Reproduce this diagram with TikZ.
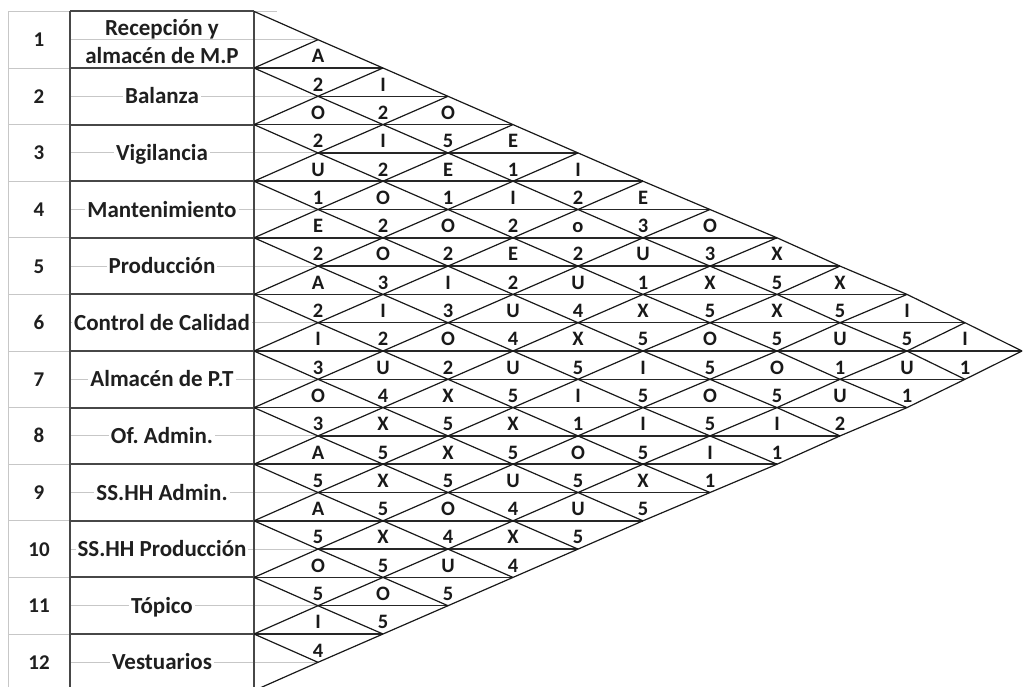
\documentclass[tikz,border=0pt]{standalone}
\usepackage{fontspec}
\setmainfont{Carlito}
\begin{document}
\begin{tikzpicture}[x=1pt,y=-1pt,
  grid/.style={draw=black!22, line width=1pt},
  frame/.style={draw=black!72, line width=1.9pt},
  diag/.style={draw=black!90, line width=1.2pt, line join=round},
  hline/.style={draw=black!85, line width=1.5pt},
  namelbl/.style={font=\fontsize{23}{24}\selectfont\bfseries, inner xsep=2pt, inner ysep=0pt, fill=white, anchor=base, text=black!88},
  numlbl/.style={font=\fontsize{21}{22}\selectfont\bfseries, inner sep=0pt, anchor=base, text=black!88},
  code/.style={font=\fontsize{20.5}{21}\selectfont\bfseries, inner sep=0pt, anchor=base, text=black!90}]
\useasboundingbox (0,0) rectangle (1024,686);

% lattice points of the relationship triangle: column u, half-row level v
\foreach \xx [count=\k from 0] in {254,318,383,448,513,578,643,710,777,840,907,965,1022} {
  \foreach \v in {0,...,24} {
    \coordinate (p\k-\v) at (\xx,{11.4+28.3*\v});
  }
}

% light cell gridlines
\foreach \v in {0,2,...,24} \draw[grid] (8,{11.4+28.3*\v}) -- (70,{11.4+28.3*\v});
\draw[grid] (8,11.4) -- (8,700);
\foreach \v in {1,3,...,23} \draw[grid] (70,{11.4+28.3*\v}) -- (p1-\v);
\draw[grid] (p0-0) -- (277,11.4);

% activity name column
\draw[frame] (70,11.4) -- (70,700);
\draw[frame] (254,11.4) -- (254,700);
\foreach \v in {0,2,...,22} \draw[frame] (70,{11.4+28.3*\v}) -- (p0-\v);

% horizontal diagonals of the diamonds
\foreach \v in {2,...,22} {
  \pgfmathtruncatemacro\ua{mod(\v,2)}
  \pgfmathtruncatemacro\ub{min(\v,24-\v)}
  \ifnum\ub>\ua \draw[hline] (p\ua-\v) -- (p\ub-\v); \fi
}

% descending diagonals
\foreach \k in {0,...,11} {
  \pgfmathtruncatemacro\n{12-\k}
  \pgfmathtruncatemacro\s{2*\k}
  \draw[diag] (p0-\s) \foreach \u [evaluate=\u as \vv using {int(2*\k+\u)}] in {1,...,\n} { -- (p\u-\vv) };
}
% ascending diagonals
\foreach \k in {1,...,12} {
  \pgfmathtruncatemacro\s{2*\k}
  \draw[diag] (p0-\s) \foreach \u [evaluate=\u as \vv using {int(2*\k-\u)}] in {1,...,\k} { -- (p\u-\vv) };
}

% row numbers and activity names
\foreach \i in {1,...,12} {
  \node[numlbl] (n\i) at (39,{11.4+28.3*(2*\i-1)+7}) {\i};
}
\node[namelbl, fill=none] (a1a) at (162,35) {Recepción y};
\node[namelbl, fill=none] (a1b) at (162,63) {almacén de M.P};
\foreach \nm [count=\i from 2] in {Balanza,Vigilancia,Mantenimiento,Producción,Control de Calidad,Almacén de P.T,Of.\ Admin.,SS.HH Admin.,SS.HH Producción,Tópico,Vestuarios} {
  \node[namelbl] (a\i) at (162,{11.4+28.3*(2*\i-1)+7.5}) {\strut\nm};
}

% closeness codes (upper half) and reasons (lower half), one list per half-row
\foreach \txt [count=\r] in {
  {A},
  {2,I},
  {O,2,O},
  {2,I,5,E},
  {U,2,E,1,I},
  {1,O,1,I,2,E},
  {E,2,O,2,o,3,O},
  {2,O,2,E,2,U,3,X},
  {A,3,I,2,U,1,X,5,X},
  {2,I,3,U,4,X,5,X,5,I},
  {I,2,O,4,X,5,O,5,U,5,I},
  {3,U,2,U,5,I,5,O,1,U,1},
  {O,4,X,5,I,5,O,5,U,1},
  {3,X,5,X,1,I,5,I,2},
  {A,5,X,5,O,5,I,1},
  {5,X,5,U,5,X,1},
  {A,5,O,4,U,5},
  {5,X,4,X,5},
  {O,5,U,4},
  {5,O,5},
  {I,5},
  {4}} {
  \foreach \t [count=\u] in \txt {
    \node[code] (c\r-\u) at ([yshift=-23.1pt]p\u-\r) {\t};
  }
}
\end{tikzpicture}
\end{document}
